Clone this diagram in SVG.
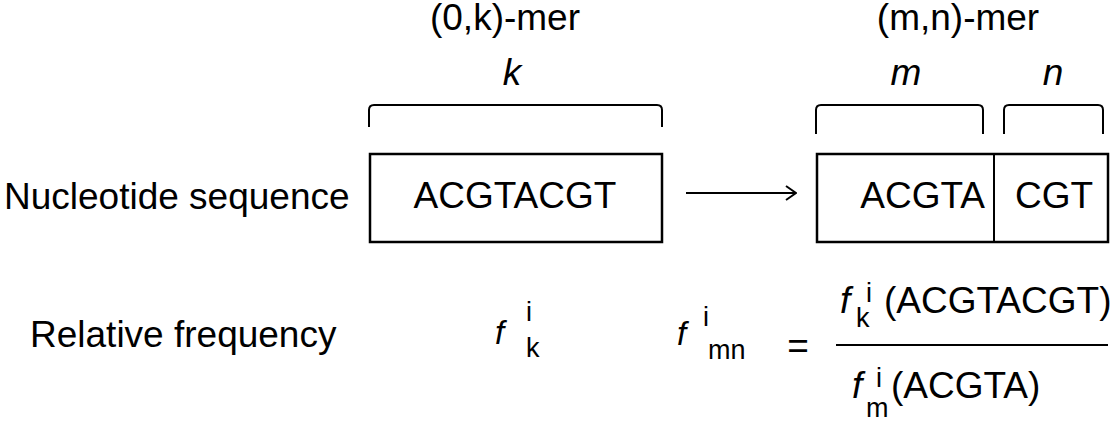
<svg xmlns="http://www.w3.org/2000/svg" width="1116" height="422" viewBox="0 0 1116 422">
<style>
text{font-family:"Liberation Sans",Arial,sans-serif;fill:#000}
.t{font-size:37px}
.it{font-style:italic}
.f{font-size:33px;font-style:italic}
.F{font-size:37px;font-style:italic}
.s{font-size:27px}
.box{fill:#fff;stroke:#000;stroke-width:2.5}
.br{fill:none;stroke:#000;stroke-width:2}
.ln{stroke:#000;stroke-width:2;fill:none}
</style>
<defs>
<marker id="ah" viewBox="0 0 12 16" refX="11" refY="8" markerWidth="12" markerHeight="16" markerUnits="userSpaceOnUse" orient="auto">
<path d="M1,1 L11,8 L1,15" fill="none" stroke="#000" stroke-width="2"/>
</marker>
</defs>
<g id="labels">
<text class="t" x="4" y="209">Nucleotide sequence</text>
<text class="t" x="30" y="347">Relative frequency</text>
<text class="t" x="505" y="30" text-anchor="middle">(0,k)-mer</text>
<text class="t" x="958" y="30" text-anchor="middle">(m,n)-mer</text>
<text class="t it" x="512" y="85" text-anchor="middle">k</text>
<text class="t it" x="906" y="85" text-anchor="middle">m</text>
<text class="t it" x="1053" y="85" text-anchor="middle">n</text>
</g>
<g id="brackets">
<path class="br" d="M369,127 V110 Q369,105 374,105 H657 Q662,105 662,110 V127"/>
<path class="br" d="M816,134 V110 Q816,105 821,105 H978 Q983,105 983,110 V134"/>
<path class="br" d="M1004,134 V110 Q1004,105 1009,105 H1098 Q1103,105 1103,110 V134"/>
</g>
<g id="node-kmer">
<rect class="box" x="370" y="154" width="292" height="88"/>
<text class="t" x="515" y="208" text-anchor="middle">ACGTACGT</text>
</g>
<g id="node-mnmer">
<rect class="box" x="817" y="154" width="291" height="88"/>
<line class="ln" x1="994" y1="154" x2="994" y2="242"/>
<text class="t" x="985" y="208" text-anchor="end">ACGTA</text>
<text class="t" x="1054" y="208" text-anchor="middle">CGT</text>
</g>
<g id="connectors">
<line class="ln" x1="686" y1="193" x2="796" y2="193" marker-end="url(#ah)"/>
</g>
<g id="formula">
<text class="f" x="495" y="344">f</text>
<text class="s" x="526" y="321">i</text>
<text class="s" x="526" y="357">k</text>
<text class="f" x="677" y="345">f</text>
<text class="s" x="703" y="326">i</text>
<text class="s" x="708" y="359">mn</text>
<text class="t" x="798" y="358" text-anchor="middle">=</text>
<line class="ln" x1="836" y1="345" x2="1108" y2="345"/>
<text class="F" x="840" y="313">f</text>
<text class="s" x="866" y="302">i</text>
<text class="s" x="856" y="327">k</text>
<text class="t" x="884" y="313">(ACGTACGT)</text>
<text class="F" x="852" y="398">f</text>
<text class="s" x="876" y="387">i</text>
<text class="s" x="866" y="417">m</text>
<text class="t" x="891" y="398">(ACGTA)</text>
</g>
</svg>
